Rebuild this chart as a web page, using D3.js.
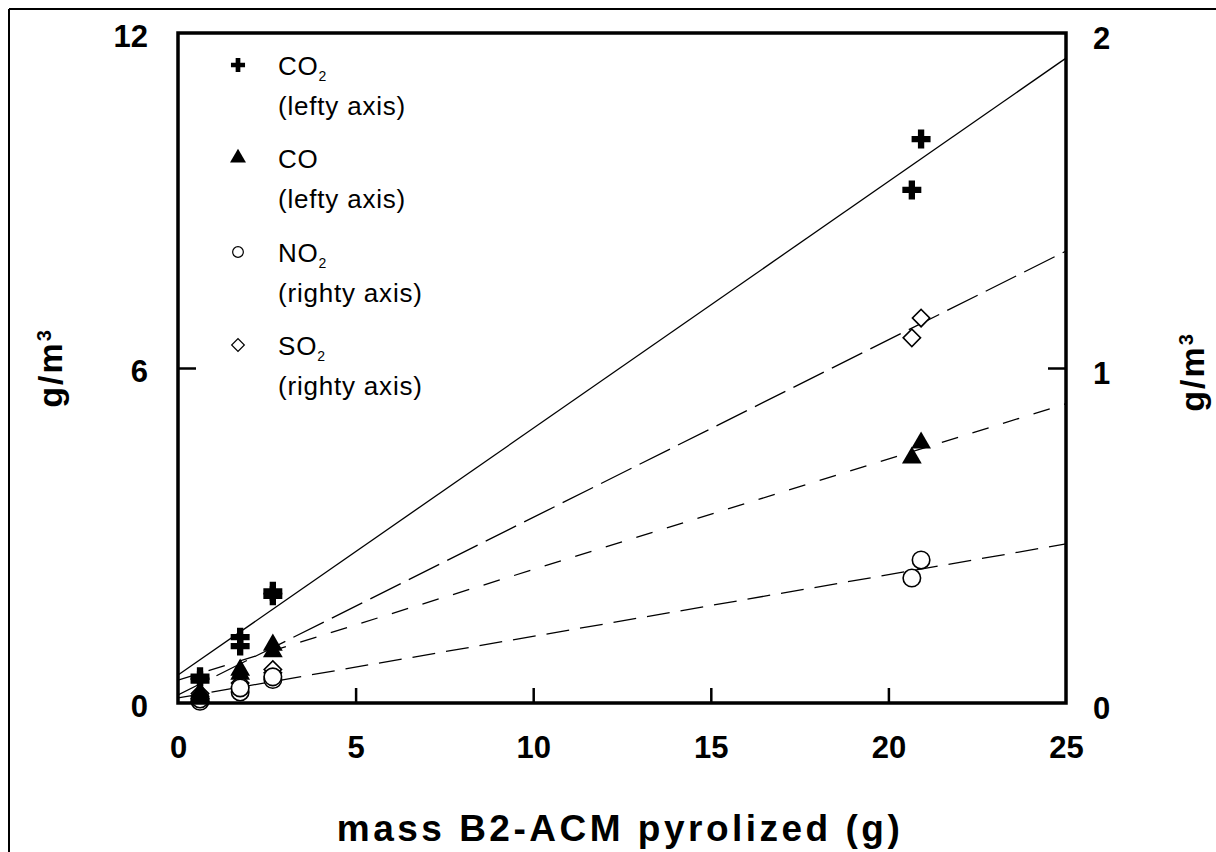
<!DOCTYPE html>
<html><head><meta charset="utf-8">
<script src="https://cdn.jsdelivr.net/npm/d3@7"></script>
<style>body{margin:0;background:#fff} svg{display:block}</style>
</head><body><svg id="c" width="1216" height="852"></svg>
<script>
// ---- data ----
const massPoints = [0.62, 0.62, 1.75, 1.75, 2.67, 2.67, 20.66, 20.92];
const co2 = [0.47, 0.40, 1.18, 1.02, 2.00, 1.92, 9.19, 10.10];   // left axis
const co  = [0.18, 0.12, 0.59, 0.52, 1.04, 0.92, 4.39, 4.66];    // left axis
const no2 = [0.005, 0.012, 0.033, 0.045, 0.070, 0.078, 0.373, 0.427]; // right axis
const so2 = [0.020, 0.028, 0.048, 0.060, 0.090, 0.100, 1.090, 1.149]; // right axis

const fitNames     = ["CO2", "CO", "NO2", "SO2"];
const fitIntercept = [0.50, 0.41, 0.015, 0.024];
const fitSlope     = [0.442, 0.198, 0.0184, 0.053];
const fitAxis      = ["left", "left", "right", "right"];

const xTicks = [0, 5, 10, 15, 20, 25];
const yLeftTicks = [0, 6, 12];
const yRightTicks = [0, 1, 2];

const legendGas  = ["CO", "CO", "NO", "SO"];
const legendSub  = ["2", "", "2", "2"];
const legendNote = ["(lefty axis)", "(lefty axis)", "(righty axis)", "(righty axis)"];

// ---- layout ----
const svg = d3.select("#c");
const L = 178, T = 33, R = 1066, B = 703;
const x = d3.scaleLinear().domain([0, 25]).range([L, R]);
const yL = d3.scaleLinear().domain([0, 12]).range([B, T]);
const yR = d3.scaleLinear().domain([0, 2]).range([B, T]);
const font = "'Liberation Sans', Arial, Helvetica, sans-serif";

// outer frame (left & top edge of scanned figure)
svg.append("line").attr("x1", 9).attr("y1", 9).attr("x2", 1216).attr("y2", 9)
  .attr("stroke", "#000").attr("stroke-width", 2);
svg.append("line").attr("x1", 9).attr("y1", 9).attr("x2", 9).attr("y2", 852)
  .attr("stroke", "#000").attr("stroke-width", 2);

svg.append("defs").append("clipPath").attr("id", "clip")
  .append("rect").attr("x", L).attr("y", T).attr("width", R - L).attr("height", B - T);

// fit lines
const dashes = { CO2: null, CO: "17,15", NO2: "23,11", SO2: "34,9" };
const plot = svg.append("g").attr("clip-path", "url(#clip)");
fitNames.forEach((n, i) => {
  const ys = fitAxis[i] === "left" ? yL : yR;
  const line = d3.line().x(d => x(d)).y(d => ys(fitIntercept[i] + fitSlope[i] * d));
  plot.append("path").datum([0, 25]).attr("d", line)
    .attr("fill", "none").attr("stroke", "#000").attr("stroke-width", 1.3)
    .attr("stroke-dasharray", dashes[n]);
});

// markers
const sym = {
  CO2: d3.symbol().type(d3.symbolCross).size(200),
  CO:  d3.symbol().type(d3.symbolTriangle).size(170),
  NO2: d3.symbol().type(d3.symbolCircle).size(240),
  SO2: d3.symbol().type(d3.symbolSquare).size(150)
};
function drawPts(vals, ys, name, filled, rot) {
  svg.append("g").selectAll("path").data(vals).join("path")
    .attr("transform", (d, i) => `translate(${x(massPoints[i])},${ys(d)}) rotate(${rot})`)
    .attr("d", sym[name]())
    .attr("fill", filled ? "#000" : "#fff")
    .attr("stroke", "#000").attr("stroke-width", filled ? 0 : 1.6);
}
drawPts(so2, yR, "SO2", false, 45);
drawPts(no2, yR, "NO2", false, 0);
drawPts(co, yL, "CO", true, 0);
drawPts(co2, yL, "CO2", true, 0);

// plot frame
svg.append("rect").attr("x", L).attr("y", T).attr("width", R - L).attr("height", B - T)
  .attr("fill", "none").attr("stroke", "#000").attr("stroke-width", 3.5);

// axes
function styleAxis(g) {
  g.select(".domain").remove();
  g.selectAll(".tick line").attr("stroke", "#000").attr("stroke-width", 2.5);
  g.selectAll(".tick text").attr("fill", "#000")
    .style("font-family", font).style("font-weight", "bold").style("font-size", "31px");
}
svg.append("g").attr("transform", `translate(0,${B})`)
  .call(d3.axisBottom(x).tickValues(xTicks).tickSize(-15).tickPadding(33).tickFormat(d3.format("d")))
  .call(styleAxis)
  .call(g => g.selectAll(".tick line").filter(d => d === 0 || d === 25).remove());
svg.append("g").attr("transform", `translate(${L},0)`)
  .call(d3.axisLeft(yL).tickValues(yLeftTicks).tickSize(-18).tickPadding(30).tickFormat(d3.format("d")))
  .call(styleAxis)
  .call(g => g.selectAll(".tick text").attr("dy", "0.45em"))
  .call(g => g.selectAll(".tick line").filter(d => d === 0 || d === 12).remove());
svg.append("g").attr("transform", `translate(${R},0)`)
  .call(d3.axisRight(yR).tickValues(yRightTicks).tickSize(-18).tickPadding(27).tickFormat(d3.format("d")))
  .call(styleAxis)
  .call(g => g.selectAll(".tick text").attr("dy", "0.5em"))
  .call(g => g.selectAll(".tick line").filter(d => d === 0 || d === 2).remove());

// axis titles
svg.append("text").attr("x", 620).attr("y", 841).attr("text-anchor", "middle")
  .style("font-family", font).style("font-weight", "bold").style("font-size", "37px")
  .style("letter-spacing", "3.5px")
  .text("mass B2-ACM pyrolized (g)");
function yTitle(cx, cy) {
  const t = svg.append("text").attr("transform", `translate(${cx},${cy}) rotate(-90)`)
    .attr("text-anchor", "middle")
    .style("font-family", font).style("font-weight", "bold").style("font-size", "34px")
    .style("letter-spacing", "2px");
  t.append("tspan").text("g/m");
  t.append("tspan").attr("dy", "-0.55em").style("font-size", "20px").text("3");
}
yTitle(62, 368);
yTitle(1204, 372);

// legend
const legY = [65, 158, 252, 345];
const legFill = [true, true, false, false];
const legSize = [110, 110, 90, 80];
legY.forEach((yy, i) => {
  svg.append("path")
    .attr("transform", `translate(238,${yy}) rotate(${i === 3 ? 45 : 0})`)
    .attr("d", d3.symbol().type([d3.symbolCross, d3.symbolTriangle, d3.symbolCircle, d3.symbolSquare][i]).size(legSize[i])())
    .attr("fill", legFill[i] ? "#000" : "#fff").attr("stroke", "#000").attr("stroke-width", legFill[i] ? 0 : 1.2);
  const t = svg.append("text").attr("x", 278).attr("y", yy + 10)
    .style("font-family", font).style("font-size", "26px").style("letter-spacing", "0.8px");
  t.append("tspan").text(legendGas[i]);
  if (legendSub[i]) t.append("tspan").attr("dy", "0.45em").style("font-size", "14px").text(legendSub[i]);
  svg.append("text").attr("x", 278).attr("y", yy + 50)
    .style("font-family", font).style("font-size", "26px").style("letter-spacing", "0.8px")
    .text(legendNote[i]);
});
</script></body></html>
